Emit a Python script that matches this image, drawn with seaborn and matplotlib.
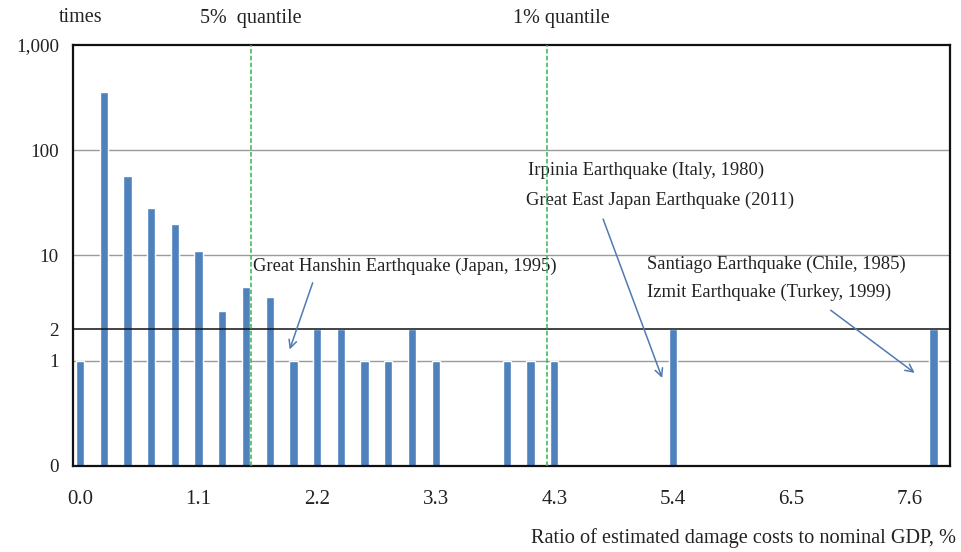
import matplotlib
matplotlib.use("Agg")
import matplotlib.pyplot as plt
import seaborn as sns
import numpy as np
import pandas as pd

# histogram of damage-to-GDP ratio (bin index -> number of earthquakes)
bin_index = list(range(37))
counts = [1, 360, 57, 28, 20, 11, 3, 5, 4, 1, 2, 2, 1, 1, 2, 1, 0, 0, 1, 1,
          1, 0, 0, 0, 0, 2, 0, 0, 0, 0, 0, 0, 0, 0, 0, 0, 2]
tick_pos = [0, 5, 10, 15, 20, 25, 30, 35]
tick_labels = ["0.0", "1.1", "2.2", "3.3", "4.3", "5.4", "6.5", "7.6"]
y_ticks = [0.1, 1, 2, 10, 100, 1000]
y_labels = ["0", "1", "2", "10", "100", "1,000"]
q5_pos, q1_pos = 7.2, 19.7

df = pd.DataFrame({"bin": bin_index, "count": counts})

sns.set_style("white")
plt.rcParams["font.family"] = ["Liberation Serif", "DejaVu Serif"]
txt_col = "#222222"
bar_col = "#4F81BD"

fig = plt.figure(figsize=(9.62, 5.52), dpi=100)
ax = fig.add_axes([0.0756, 0.1558, 0.9119, 0.7627])

sns.barplot(data=df, x="bin", y="count", order=bin_index, color=bar_col,
            width=0.35, saturation=1, ax=ax, zorder=2)
ax.set_yscale("log")
ax.set_ylim(0.1, 1000)
ax.set_xlim(-0.31, 36.63)

# horizontal grid lines
for v in [1, 10, 100]:
    ax.axhline(v, color="#9a9a9a", lw=1, zorder=1)
ax.axhline(2, color="#111111", lw=1.1, zorder=3)

ax.set_yticks(y_ticks)
ax.set_yticklabels(y_labels)
ax.yaxis.set_minor_locator(plt.NullLocator())
ax.tick_params(axis="y", which="major", direction="out", length=7, width=1,
               color="#222222", pad=3, labelsize=13.8, labelcolor=txt_col)

ax.set_xticks(tick_pos)
ax.set_xticklabels(tick_labels)
ax.set_xticks(np.arange(-0.31, 36.7, 1.0), minor=True)
ax.tick_params(axis="x", which="major", length=0, pad=17, labelsize=15,
               labelcolor=txt_col)
ax.tick_params(axis="x", which="minor", direction="out", length=4, width=0.8,
               color="#444444")
ax.set_xlabel("")
ax.set_ylabel("")

for s in ax.spines.values():
    s.set_visible(True)
    s.set_color("#111111")
    s.set_linewidth(1.6)

# quantile lines
for q in [q5_pos, q1_pos]:
    ax.axvline(q, color="#2DB84D", lw=1.1, ls=(0, (3, 1.5)), zorder=4)
ax.text(q5_pos, 1.064, "5%  quantile", transform=ax.get_xaxis_transform(),
        ha="center", va="center", fontsize=14.5, color=txt_col)
ax.text(20.3, 1.064, "1% quantile", transform=ax.get_xaxis_transform(),
        ha="center", va="center", fontsize=14.5, color=txt_col)
fig.text(81 / 962, 1 - 18 / 552, "times", ha="center", va="center",
         fontsize=14.5, color=txt_col)
fig.text(956 / 962, 1 - 538 / 552,
         "Ratio of estimated damage costs to nominal GDP, %",
         ha="right", va="center", fontsize=14.6, color=txt_col)

arrow = dict(arrowstyle="->", color="#4F7AB3", lw=1.1,
             mutation_scale=14, shrinkA=0, shrinkB=0)

# annotations for notable earthquakes
fs = 13.4
ax.text(7.28, 7.85, "Great Hanshin Earthquake (Japan, 1995)",
        ha="left", va="center", fontsize=fs, color=txt_col)
ax.annotate("", xy=(8.84, 1.28), xytext=(9.81, 5.5), arrowprops=arrow)

ax.text(18.9, 64.2, "Irpinia Earthquake (Italy, 1980)",
        ha="left", va="center", fontsize=fs, color=txt_col)
ax.text(18.8, 33.1, "Great East Japan Earthquake (2011)",
        ha="left", va="center", fontsize=fs, color=txt_col)
ax.annotate("", xy=(24.55, 0.686), xytext=(22.06, 22.2), arrowprops=arrow)

ax.text(23.9, 8.2, "Santiago Earthquake (Chile, 1985)",
        ha="left", va="center", fontsize=fs, color=txt_col)
ax.text(23.9, 4.5, "Izmit Earthquake (Turkey, 1999)",
        ha="left", va="center", fontsize=fs, color=txt_col)
ax.annotate("", xy=(35.2, 0.767), xytext=(31.66, 3.02), arrowprops=arrow)

fig.savefig("out.png", dpi=100)
